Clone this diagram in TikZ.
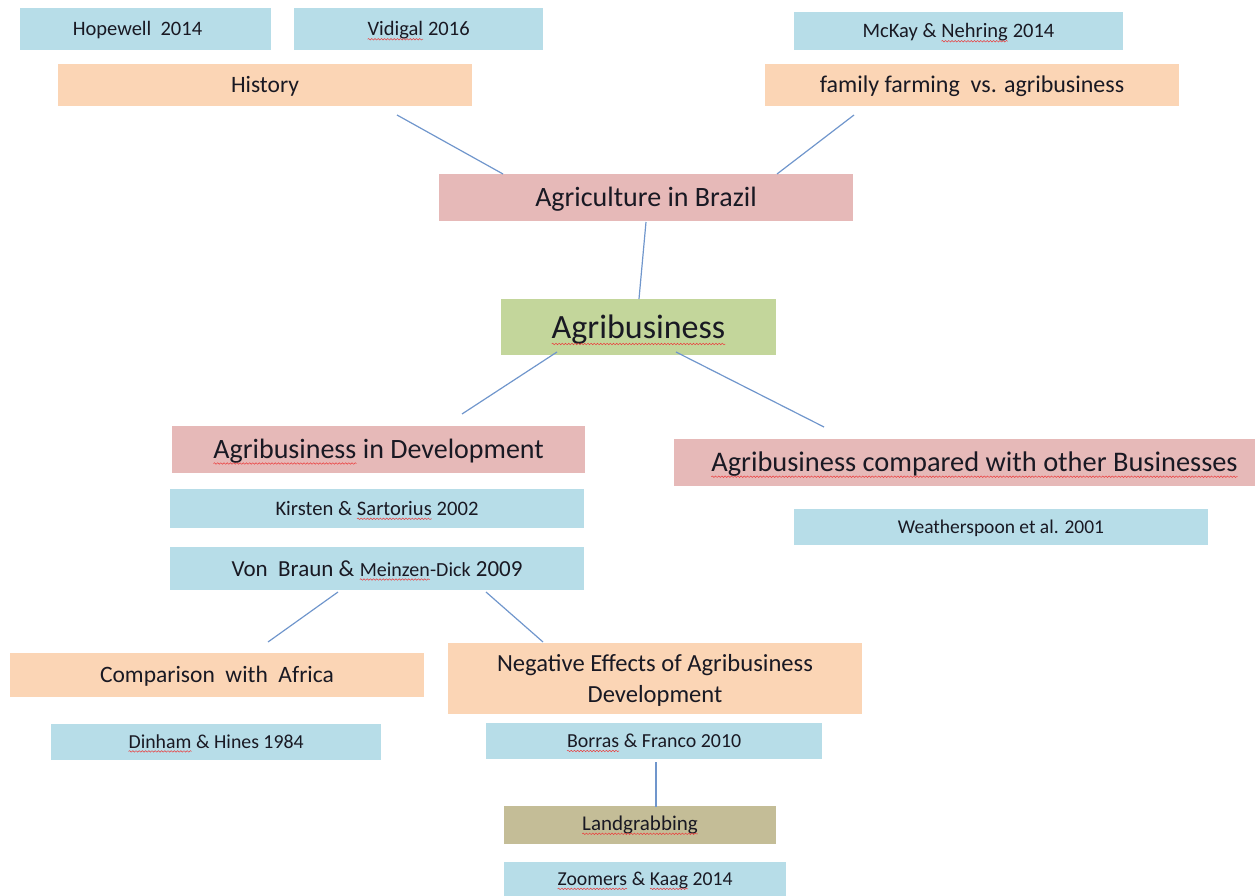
\documentclass[tikz,border=0pt]{standalone}
\usepackage{fontspec}
\setmainfont{Carlito}
\usetikzlibrary{decorations.pathmorphing}

\definecolor{refblue}{RGB}{183,221,232}
\definecolor{topicorange}{RGB}{251,213,181}
\definecolor{themepink}{RGB}{230,185,184}
\definecolor{coregreen}{RGB}{195,214,155}
\definecolor{landtan}{RGB}{196,189,151}
\definecolor{linkblue}{RGB}{112,150,204}
\definecolor{textdark}{RGB}{25,25,35}
\definecolor{spellred}{RGB}{235,60,60}

% word with a wavy red underline
\newcommand\spell[1]{\tikz[baseline=(sw.base)]{%
  \node[inner sep=0pt,outer sep=0pt,minimum size=0pt,text height={},text depth={},fill=none,draw=none,anchor=base,text=textdark] (sw) {#1};%
  \draw[spellred,line width=0.5pt,decorate,decoration={snake,amplitude=0.75pt,segment length=3.2pt}]
    ([yshift=-0.17em]sw.base west) -- ([yshift=-0.17em]sw.base east);}}
\newcommand\fs[2]{\fontsize{#1}{#2}\selectfont}

\tikzset{
  box/.style={rectangle, inner sep=0pt, text=textdark, align=center},
  % font size in px, with a fixed text box so that baselines sit alike
  sz/.style={font=\fs{#1}{#1}, text height={0.78*#1pt}, text depth={0.12*#1pt}},
  refbox/.style={box, fill=refblue},
  topicbox/.style={box, fill=topicorange},
  themebox/.style={box, fill=themepink},
  corebox/.style={box, fill=coregreen},
  landbox/.style={box, fill=landtan},
  link/.style={draw=linkblue, line width=1.2pt},
}

\begin{document}
\begin{tikzpicture}[x=1pt,y=-1pt]
\useasboundingbox (0,0) rectangle (1255,896);

% literature and topic boxes, top row
\node[refbox, minimum width=251, minimum height=42, sz=20.5] (hop) at (145.5,29) {Hopewell~ 2014\hspace*{16pt}};
\node[refbox, minimum width=249, minimum height=42, sz=20.5] (vid) at (418.5,29) {\spell{Vidigal} 2016};
\node[refbox, minimum width=329, minimum height=38, sz=20.5] (mck) at (958.5,31) {McKay \& \spell{Nehring} 2014};
\node[topicbox, minimum width=414, minimum height=42, sz=23.5] (hist) at (265,85) {History};
\node[topicbox, minimum width=414, minimum height=42, sz=24] (fam) at (972,85) {family farming~ vs. agribusiness};

% central themes
\node[themebox, minimum width=414, minimum height=46, sz=28] (brazil) at (646,197.5) {Agriculture in Brazil};
\node[corebox, minimum width=275, minimum height=56, sz=34] (agri) at (638.5,327) {\spell{Agribusiness}};
\node[themebox, minimum width=413, minimum height=47, sz=28] (dev) at (378.5,449.5) {\spell{Agribusiness} in Development};
\node[themebox, minimum width=601, minimum height=47, sz=28.4] (cmp) at (974.5,462.5) {\spell{Agribusiness compared with other Businesses}};

% sources under the themes
\node[refbox, minimum width=414, minimum height=39, sz=20.6] (kir) at (377,508.5) {Kirsten \& \spell{Sartorius} 2002};
\node[refbox, minimum width=414, minimum height=43, sz=23] (von) at (377,568.5) {Von~ Braun \& {\fs{20}{20}\spell{Meinzen}-Dick} 2009};
\node[refbox, minimum width=414, minimum height=36, sz=19.5] (wea) at (1001,527) {Weatherspoon et al. 2001};

% lower branch
\node[topicbox, minimum width=414, minimum height=44, sz=23.5] (afr) at (217,674.5) {Comparison~ with~ Africa};
\node[refbox, minimum width=330, minimum height=36, sz=19.8] (din) at (216,741.5) {\spell{Dinham} \& Hines 1984};
\node[topicbox, minimum width=414, minimum height=71, font=\fs{24.6}{31}, text height=50pt, text depth=3pt] (neg) at (655,678.5) {Negative Effects of Agribusiness\\Development};
\node[refbox, minimum width=336, minimum height=36, sz=19.9] (bor) at (654,741) {\spell{Borras} \& Franco 2010};
\node[landbox, minimum width=272, minimum height=38, sz=21, text height=13pt] (land) at (640,825) {\spell{Landgrabbing}};
\node[refbox, minimum width=282, minimum height=34, sz=19.7] (zoo) at (645,879) {\spell{Zoomers} \& \spell{Kaag} 2014};

% connector end points
\coordinate (histC) at (397,115);  \coordinate (brazilL) at (503,174);
\coordinate (famC) at (854,115);   \coordinate (brazilR) at (777,174);
\coordinate (brazilB) at (646,222); \coordinate (agriT) at (639,299);
\coordinate (agriL) at (557,352);  \coordinate (devT) at (462,414);
\coordinate (agriR) at (676,352);  \coordinate (cmpT) at (824,427);
\coordinate (vonL) at (338,592);   \coordinate (afrT) at (268,642);
\coordinate (vonR) at (486,592);   \coordinate (negT) at (543,642);
\coordinate (borB) at (656,762);   \coordinate (landT) at (656,807);

\draw[link] (histC) -- (brazilL);
\draw[link] (famC) -- (brazilR);
\draw[link] (brazilB) -- (agriT);
\draw[link] (agriL) -- (devT);
\draw[link] (agriR) -- (cmpT);
\draw[link] (vonL) -- (afrT);
\draw[link] (vonR) -- (negT);
\draw[link] (borB) -- (landT);
\end{tikzpicture}
\end{document}
